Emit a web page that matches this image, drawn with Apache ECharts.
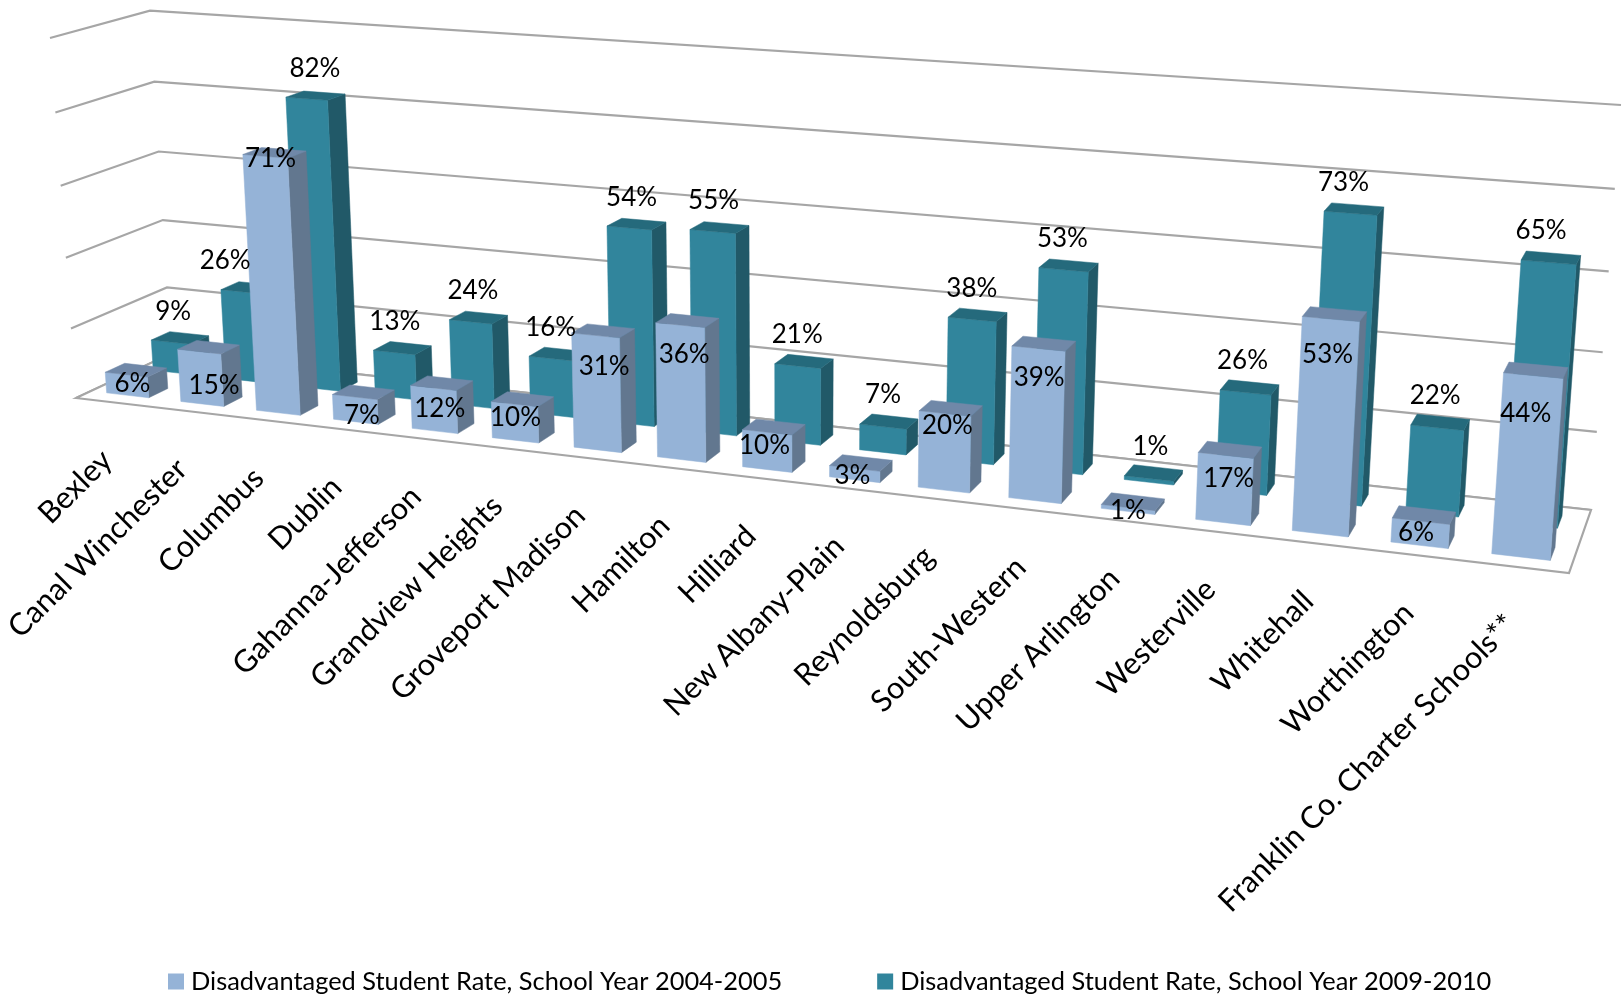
<!DOCTYPE html>
<html>
<head>
<meta charset="utf-8">
<script src="https://cdn.jsdelivr.net/npm/echarts@6/dist/echarts.min.js"></script>
<style>html,body{margin:0;padding:0;background:#fff}#c{width:1623px;height:995px}</style>
</head>
<body>
<div id="c"></div>
<script>
const categories = ["Bexley","Canal Winchester","Columbus","Dublin","Gahanna-Jefferson","Grandview Heights","Groveport Madison","Hamilton","Hilliard","New Albany-Plain","Reynoldsburg","South-Western","Upper Arlington","Westerville","Whitehall","Worthington","Franklin Co. Charter Schools**"];
const rate2004 = [6,15,71,7,12,10,31,36,10,3,20,39,1,17,53,6,44];
const rate2009 = [9,26,82,13,24,16,54,55,21,7,38,53,1,26,73,22,65];
const gridTicks = [0,20,40,60,80,100];
const name2004 = "Disadvantaged Student Rate, School Year 2004-2005";
const name2009 = "Disadvantaged Student Rate, School Year 2009-2010";

/* Perspective frame: the hidden cartesian grid is projected onto this box */
const GRID = {left:100, top:100, width:1000, height:500};
const FLOOR = [[76,398],[1569,573],[1591,510],[171,353.6]];
const TOP   = [[50,38],[1600,144],[1621,105],[150,10.7]];
const V_PERSPECTIVE = 0.045;
const ROW_FRONT = {depth:[0.15,0.35], width:0.57, shift:0};
const ROW_BACK  = {depth:[0.65,0.85], width:0.54, shift:-0.0018};
const C2004 = {front:'#95B3D7', top:'#7088A8', side:'#62778F'};
const C2009 = {front:'#31859C', top:'#256A7C', side:'#215968'};
const FONT = 'Lato';
/* hand placement of the data labels, in pixels, relative to their bar */
const NUDGE_2009_X = [-7,-25,-1,-8,-6,-8,-5.5,-6.5,-7.4,-6.5,-6.6,-7,-4,-8,-11.5,-6,-11];
const NUDGE_2004_X = [-1.5,7.5,-2,0.5,0,-5,3,-1.3,-7.4,-6.5,-1.4,-2.7,-3,0.6,-5,-6,-8];
const NUDGE_2004_Y = [5,30,-2,15,17,10,28,26,11,5,9,26,1,21,33,10,35];

function quad(p){
  const [x0,y0]=p[0],[x1,y1]=p[1],[x2,y2]=p[2],[x3,y3]=p[3];
  const dx1=x1-x2,dx2=x3-x2,sx=x0-x1+x2-x3,dy1=y1-y2,dy2=y3-y2,sy=y0-y1+y2-y3;
  const den=dx1*dy2-dx2*dy1;
  const g=(sx*dy2-dx2*sy)/den,h=(dx1*sy-sx*dy1)/den;
  const a=x1-x0+g*x1,b=x3-x0+h*x3,d=y1-y0+g*y1,e=y3-y0+h*y3;
  return (u,w)=>{const q=g*u+h*w+1;return [(a*u+b*w+x0)/q,(d*u+e*w+y0)/q];};
}
const floorAt=quad(FLOOR), topAt=quad(TOP);
function project(u,d,v){
  const f=floorAt(u,d),t=topAt(u,d),w=v/(1+V_PERSPECTIVE*(1-v));
  return [f[0]+(t[0]-f[0])*w,f[1]+(t[1]-f[1])*w];
}
/* data -> unit cube through the axis scales */
function unit(api,cat,val){
  const c=api.coord([cat,val]);
  return {u:(c[0]-GRID.left)/GRID.width, v:(GRID.top+GRID.height-c[1])/GRID.height};
}
function barItem(colors,row){
  return function(params,api){
    const p=unit(api,api.value(0),api.value(1));
    const half=api.size([1,0])[0]/GRID.width*row.width/2;
    const ul=p.u+row.shift-half,ur=p.u+row.shift+half,[d0,d1]=row.depth;
    const P=(u,d,v)=>project(u,d,v);
    const poly=(pts,fill)=>({type:'polygon',shape:{points:pts},style:{fill:fill,stroke:fill,lineWidth:0.5}});
    return {type:'group',children:[
      poly([P(ur,d0,0),P(ur,d1,0),P(ur,d1,p.v),P(ur,d0,p.v)],colors.side),
      poly([P(ul,d0,0),P(ur,d0,0),P(ur,d0,p.v),P(ul,d0,p.v)],colors.front),
      poly([P(ul,d0,p.v),P(ur,d0,p.v),P(ur,d1,p.v),P(ul,d1,p.v)],colors.top)
    ]};
  };
}
function labelItem(row,nudgeX,nudgeY,baseY){
  return function(params,api){
    const i=api.value(0),p=unit(api,i,api.value(1));
    const pos=project(p.u,(row.depth[0]+row.depth[1])/2,p.v);
    return {type:'text',x:pos[0]-2+nudgeX[i],y:pos[1]+baseY+(nudgeY?nudgeY[i]:0),
      style:{text:api.value(1)+'%',fontFamily:FONT,fontSize:26,fill:'#000',align:'center',verticalAlign:'middle'}};
  };
}
function seriesData(vals){return vals.map((v,i)=>[i,v]);}

const option={
  animation:false,
  backgroundColor:'#fff',
  grid:Object.assign({containLabel:false},GRID),
  xAxis:{type:'category',data:categories,show:false},
  yAxis:{type:'value',min:0,max:100,interval:20,show:false},
  legend:{
    data:[name2004,name2009],top:969,left:168,padding:0,itemGap:95,itemWidth:16,itemHeight:16,
    icon:'rect',selectedMode:false,textStyle:{fontFamily:FONT,fontSize:25.4,color:'#000',padding:[0,0,0,2]}
  },
  series:[
    {type:'custom',name:'gridlines',z:1,silent:true,clip:false,data:gridTicks.map(t=>[0,t]),
     renderItem(params,api){
       const v=unit(api,0,api.value(1)).v;
       const st={stroke:'#A6A6A6',lineWidth:2.2,fill:null};
       const pts=[project(0,0,v),project(0,1,v),project(1,1,v)];
       const kids=[{type:'polyline',shape:{points:pts},style:st}];
       if(v===0) kids.push({type:'polygon',shape:{points:[project(0,0,0),project(1,0,0),project(1,1,0),project(0,1,0)]},style:{stroke:'#A6A6A6',lineWidth:2.2,fill:'#fff'}});
       return {type:'group',children:kids};
     }},
    {type:'custom',name:name2004,z:4,silent:true,clip:false,itemStyle:{color:C2004.front},data:seriesData(rate2004),renderItem:barItem(C2004,ROW_FRONT)},
    {type:'custom',name:name2009,z:3,silent:true,clip:false,itemStyle:{color:C2009.front},data:seriesData(rate2009),renderItem:barItem(C2009,ROW_BACK)},
    {type:'custom',name:'labels2009',z:6,silent:true,clip:false,data:seriesData(rate2009),renderItem:labelItem(ROW_BACK,NUDGE_2009_X,null,-27)},
    {type:'custom',name:'labels2004',z:6,silent:true,clip:false,data:seriesData(rate2004),renderItem:labelItem(ROW_FRONT,NUDGE_2004_X,NUDGE_2004_Y,8)},
    {type:'custom',name:'categoryLabels',z:6,silent:true,clip:false,data:categories.map((c,i)=>[i,0]),
     renderItem(params,api){
       const i=api.value(0),p=unit(api,i,0),pos=project(p.u,0,0);
       return {type:'text',x:pos[0]-6,y:pos[1]+53,rotation:Math.PI/4,
         style:{text:categories[i],fontFamily:FONT,fontSize:30.6,fill:'#000',align:'right',verticalAlign:'middle'}};
     }}
  ]
};
const chart=echarts.init(document.getElementById('c'),null,{renderer:'canvas'});
chart.setOption(option);
</script>
</body>
</html>
